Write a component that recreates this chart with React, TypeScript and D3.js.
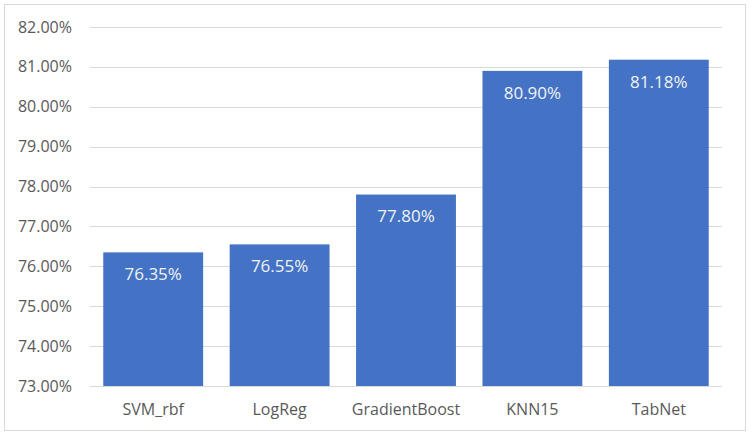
import React, { useEffect, useRef } from "react";
import * as d3 from "d3";

const models = ["SVM_rbf", "LogReg", "GradientBoost", "KNN15", "TabNet"];
const accuracy = [76.35, 76.55, 77.8, 80.9, 81.18];
const yTicks = [73, 74, 75, 76, 77, 78, 79, 80, 81, 82];

const W = 754;
const H = 437;

export default function App() {
  const svgRef = useRef<SVGSVGElement>(null);

  useEffect(() => {
    document.body.style.margin = "0";
    const svg = d3.select(svgRef.current);
    svg.selectAll("*").remove();

    const font = "'Open Sans', 'Noto Sans', sans-serif";

    // chart frame
    svg.append("rect")
      .attr("x", 4.5).attr("y", 4.5)
      .attr("width", 741).attr("height", 426)
      .attr("fill", "#fff")
      .attr("stroke", "#d9d9d9");

    const x = d3.scaleBand<string>()
      .domain(models)
      .range([90, 722])
      .paddingInner(0.21)
      .paddingOuter(0.105);

    const y = d3.scaleLinear().domain([73, 82]).range([386, 27]);

    svg.append("g")
      .selectAll("line")
      .data(yTicks)
      .join("line")
      .attr("x1", 90).attr("x2", 722)
      .attr("y1", d => Math.round(y(d)) + 0.5)
      .attr("y2", d => Math.round(y(d)) + 0.5)
      .attr("stroke", "#d9d9d9")
      .attr("stroke-width", 1);

    svg.append("g")
      .selectAll("text")
      .data(yTicks)
      .join("text")
      .attr("x", 72)
      .attr("y", d => y(d))
      .attr("dy", "0.35em")
      .attr("text-anchor", "end")
      .attr("fill", "#595959")
      .style("font-family", font)
      .style("font-size", "16px")
      .text(d => d.toFixed(2) + "%");

    svg.append("g")
      .selectAll("rect")
      .data(accuracy)
      .join("rect")
      .attr("x", (_, i) => x(models[i])!)
      .attr("width", x.bandwidth())
      .attr("y", d => y(d))
      .attr("height", d => y(73) - y(d))
      .attr("fill", "#4472c4");

    svg.append("g")
      .selectAll("text")
      .data(accuracy)
      .join("text")
      .attr("x", (_, i) => x(models[i])! + x.bandwidth() / 2)
      .attr("y", d => y(d) + 22)
      .attr("dy", "0.35em")
      .attr("text-anchor", "middle")
      .attr("fill", "#f2f2f2")
      .style("font-family", font)
      .style("font-size", "17px")
      .text(d => d.toFixed(2) + "%");

    svg.append("g")
      .selectAll("text")
      .data(models)
      .join("text")
      .attr("x", d => x(d)! + x.bandwidth() / 2)
      .attr("y", 409)
      .attr("dy", "0.35em")
      .attr("text-anchor", "middle")
      .attr("fill", "#595959")
      .style("font-family", font)
      .style("font-size", "16px")
      .text(d => d);
  }, []);

  return <svg ref={svgRef} width={W} height={H} style={{ display: "block" }} />;
}
